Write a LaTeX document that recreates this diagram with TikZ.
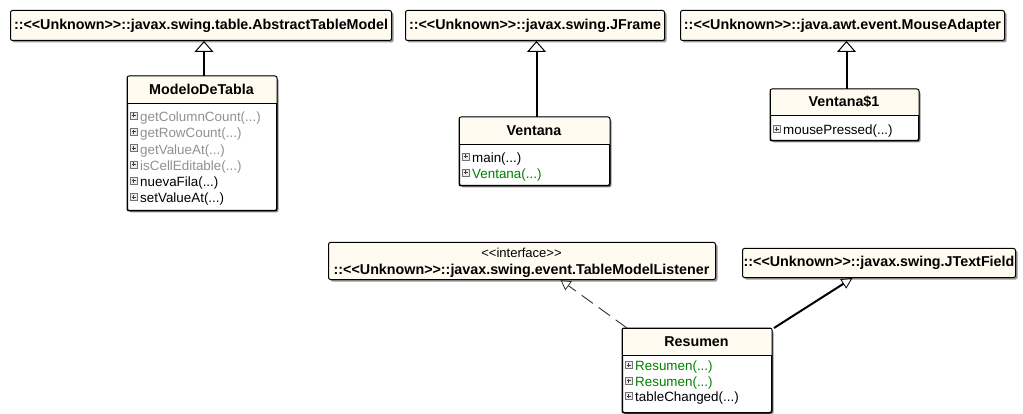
\documentclass[tikz,border=0pt]{standalone}
\usepackage{fontspec}
\setmainfont{Liberation Sans}[Ligatures=TeXOff]
\usetikzlibrary{arrows.meta,shadows,calc}
\definecolor{cream}{RGB}{255,251,240}
\definecolor{mgray}{RGB}{145,145,145}
\definecolor{mgreen}{RGB}{0,128,0}
\definecolor{shadowc}{RGB}{150,150,150}
\begin{document}
\begin{tikzpicture}[x=1pt,y=-1pt,
  box/.style={draw=black, line width=1pt, rounded corners=2pt, fill=cream, inner sep=0pt, anchor=north west,
     drop shadow={shadow xshift=2pt, shadow yshift=-2pt, fill=shadowc, opacity=1}},
  cbox/.style={box, fill=white},
  hdr/.style={font=\bfseries\fontsize{14.3}{16}\selectfont, inner sep=0pt},
  itf/.style={font=\fontsize{13}{15}\selectfont, inner sep=0pt},
  meth/.style={anchor=west, inner sep=0pt, font=\fontsize{13.4}{15}\selectfont},
  icon/.style={draw=black!55, fill=black!8, line width=0.6pt, minimum size=7pt, inner sep=0pt,
     path picture={\draw[black!75, line width=0.8pt]
        ([xshift=1.5pt]path picture bounding box.west) -- ([xshift=-1.5pt]path picture bounding box.east)
        ([yshift=-1.5pt]path picture bounding box.north) -- ([yshift=1.5pt]path picture bounding box.south);}},
  gen/.style={line width=2pt, -{Triangle[open, width=19pt, length=11pt, line width=1pt]}},
  real/.style={line width=0.9pt, draw=black!80, dash pattern=on 14pt off 7pt, -{Triangle[open, width=11pt, length=10pt, line width=0.8pt]}},
  gen2/.style={line width=2pt, -{Triangle[open, width=11pt, length=11pt, line width=0.8pt]}},
  border/.style={draw=black, line width=1pt, rounded corners=2pt}
]
\useasboundingbox (0,0) rectangle (1023,414);

% ---------- external classes ----------
\node[box, minimum width=381pt, minimum height=30pt] (atm) at (10,10) {};
\node[hdr] (atm-t) at (atm.center) {::<<Unknown>>::javax.swing.table.AbstractTableModel};

\node[box, minimum width=259pt, minimum height=30pt] (jframe) at (405,10) {};
\node[hdr] (jframe-t) at (jframe.center) {::<<Unknown>>::javax.swing.JFrame};

\node[box, minimum width=324pt, minimum height=30pt] (mouse) at (680,10) {};
\node[hdr] (mouse-t) at (mouse.center) {::<<Unknown>>::java.awt.event.MouseAdapter};

\node[box, minimum width=387pt, minimum height=37pt] (tml) at (328,242) {};
\node[itf] (tml-s) at (521.5,253) {<<interface>>};
\node[hdr] (tml-t) at (521.5,271) {::<<Unknown>>::javax.swing.event.TableModelListener};

\node[box, minimum width=273pt, minimum height=29pt] (jtf) at (742,248) {};
\node[hdr] (jtf-t) at (jtf.center) {::<<Unknown>>::javax.swing.JTextField};

% ---------- ModeloDeTabla ----------
\node[cbox, minimum width=149pt, minimum height=134pt] (modelo) at (127,76) {};
\fill[cream] ([shift={(0.5pt,-0.5pt)}]modelo.north west) rectangle (modelo.east |- 0,103);
\draw[border] (modelo.north west) rectangle (modelo.south east);
\draw[line width=0.8pt] (modelo.west |- 0,103) -- (modelo.east |- 0,103);
\node[hdr] (modelo-t) at (201.5,89.5) {ModeloDeTabla};
\node[icon] (mi1) at (133.5,115.5) {}; \node[meth, text=mgray] (m1) at (140,118) {getColumnCount(...)};
\node[icon] (mi2) at (133.5,131.8) {}; \node[meth, text=mgray] (m2) at (140,134.3) {getRowCount(...)};
\node[icon] (mi3) at (133.5,148.1) {}; \node[meth, text=mgray] (m3) at (140,150.6) {getValueAt(...)};
\node[icon] (mi4) at (133.5,164.4) {}; \node[meth, text=mgray] (m4) at (140,166.9) {isCellEditable(...)};
\node[icon] (mi5) at (133.5,180.7) {}; \node[meth] (m5) at (140,183.2) {nuevaFila(...)};
\node[icon] (mi6) at (133.5,197) {}; \node[meth] (m6) at (140,199.5) {setValueAt(...)};

% ---------- Ventana ----------
\node[cbox, minimum width=150pt, minimum height=68pt] (ventana) at (459,117) {};
\fill[cream] ([shift={(0.5pt,-0.5pt)}]ventana.north west) rectangle (ventana.east |- 0,144);
\draw[border] (ventana.north west) rectangle (ventana.south east);
\draw[line width=0.8pt] (ventana.west |- 0,144) -- (ventana.east |- 0,144);
\node[hdr] (ventana-t) at (534,130.5) {Ventana};
\node[icon] (vi1) at (465.5,156.5) {}; \node[meth] (v1) at (472,159) {main(...)};
\node[icon] (vi2) at (465.5,172.5) {}; \node[meth, text=mgreen] (v2) at (472,175) {Ventana(...)};

% ---------- Ventana$1 ----------
\node[cbox, minimum width=148pt, minimum height=51pt] (v1c) at (770,89) {};
\fill[cream] ([shift={(0.5pt,-0.5pt)}]v1c.north west) rectangle (v1c.east |- 0,115);
\draw[border] (v1c.north west) rectangle (v1c.south east);
\draw[line width=0.8pt] (v1c.west |- 0,115) -- (v1c.east |- 0,115);
\node[hdr] (v1c-t) at (844,102) {Ventana\$1};
\node[icon] (wi1) at (776.5,129) {}; \node[meth] (w1) at (783,131.5) {mousePressed(...)};

% ---------- Resumen ----------
\node[cbox, minimum width=149pt, minimum height=84pt] (res) at (622,328) {};
\fill[cream] ([shift={(0.5pt,-0.5pt)}]res.north west) rectangle (res.east |- 0,355);
\draw[border] (res.north west) rectangle (res.south east);
\draw[line width=0.8pt] (res.west |- 0,355) -- (res.east |- 0,355);
\node[hdr] (res-t) at (696.5,341.5) {Resumen};
\node[icon] (ri1) at (628.5,365) {}; \node[meth, text=mgreen] (r1) at (635,367.5) {Resumen(...)};
\node[icon] (ri2) at (628.5,380.5) {}; \node[meth, text=mgreen] (r2) at (635,383) {Resumen(...)};
\node[icon] (ri3) at (628.5,396) {}; \node[meth] (r3) at (635,398.5) {tableChanged(...)};

% ---------- connectors ----------
\draw[gen] ([xshift=2pt]modelo.north) -- ([xshift=2pt]modelo.north |- atm.south);
\draw[gen] ([xshift=2pt]ventana.north) -- ([xshift=2pt]ventana.north |- jframe.south);
\draw[gen] ([xshift=2pt]v1c.north) -- ([xshift=2pt]v1c.north |- mouse.south);
\draw[real] ([xshift=5pt]res.north west) -- ([xshift=38.5pt]tml.south);
\draw[gen2] ([xshift=2pt]res.north east) -- ([xshift=-26.5pt]jtf.south);
\end{tikzpicture}
\end{document}
